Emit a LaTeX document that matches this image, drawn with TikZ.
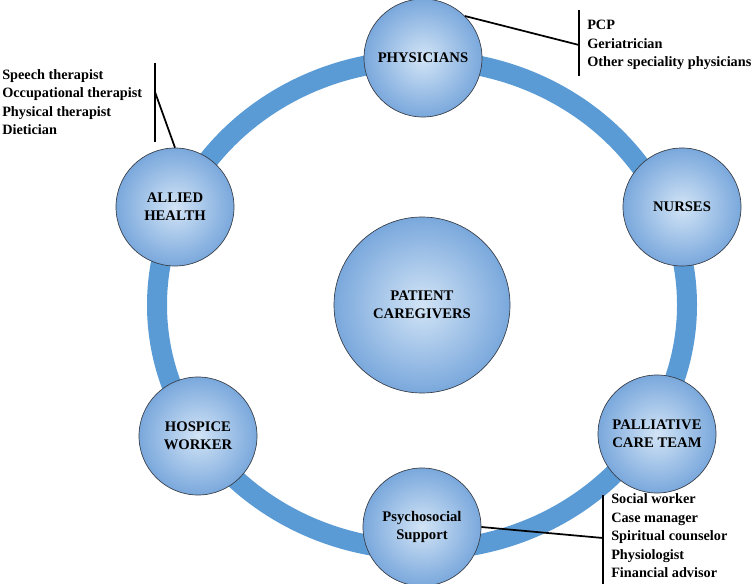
\documentclass[tikz,border=0pt]{standalone}
\usepackage{fontspec}
\setmainfont{Liberation Serif}
\usetikzlibrary{positioning}
\definecolor{ringblue}{RGB}{91,155,213}
\definecolor{ballin}{RGB}{210,228,246}
\definecolor{ballout}{RGB}{122,168,220}
\definecolor{rimgray}{RGB}{55,60,70}

\begin{document}
\begin{tikzpicture}[x=0.75pt,y=-0.75pt,
  member/.style={circle,draw=rimgray,line width=0.5pt,inner color=ballin,outer color=ballout,
    minimum size=88.5pt,inner sep=0pt,align=center,font=\bfseries\fontsize{11}{13.5}\selectfont},
  core/.style={member,minimum size=132pt},
  roster/.style={anchor=west,inner sep=0pt,align=left,font=\bfseries\fontsize{10.7}{13.9}\selectfont},
  lead/.style={line width=1.3pt},
  bar/.style={line width=1.7pt}]
  \useasboundingbox (0,0) rectangle (752,584);
  % ring of the care team
  \draw[ringblue,line width=15pt] (422,305) ellipse [x radius=265,y radius=245];
  % members
  \node[core]   (pat)    at (422,305) {PATIENT\\CAREGIVERS};
  \node[member] (phys)   at (423,58)  {PHYSICIANS};
  \node[member] (nurse)  at (682,207) {NURSES};
  \node[member] (pall)   at (657,434) {PALLIATIVE\\CARE TEAM};
  \node[member] (psych)  at (422,527) {Psychosocial\\Support};
  \node[member] (hosp)   at (198,436) {HOSPICE\\WORKER};
  \node[member] (allied) at (175,207) {ALLIED\\HEALTH};
  % callouts
  \coordinate (physT) at (579,10);  \coordinate (physB) at (579,76);
  \coordinate (physM) at (579,45);
  \draw[bar] (physT) -- (physB);
  \draw[lead] (phys.45) -- (physM);
  \node[roster] (physL) at (587,45) {PCP\\Geriatrician\\Other speciality physicians};
  \coordinate (alliedT) at (155,63); \coordinate (alliedB) at (155,142);
  \coordinate (alliedM) at (155,92);
  \draw[bar] (alliedT) -- (alliedB);
  \draw[lead] (allied.north) -- (alliedM);
  \node[roster] (alliedL) at (2,102) {Speech therapist\\Occupational therapist\\Physical therapist\\Dietician};
  \coordinate (psychT) at (603,495); \coordinate (psychB) at (603,584);
  \coordinate (psychM) at (603,538);
  \draw[bar] (psychT) -- (psychB);
  \draw[lead] (psych.east) -- (psychM);
  \node[roster] (psychL) at (611,536) {Social worker\\Case manager\\Spiritual counselor\\Physiologist\\Financial advisor};
\end{tikzpicture}
\end{document}
